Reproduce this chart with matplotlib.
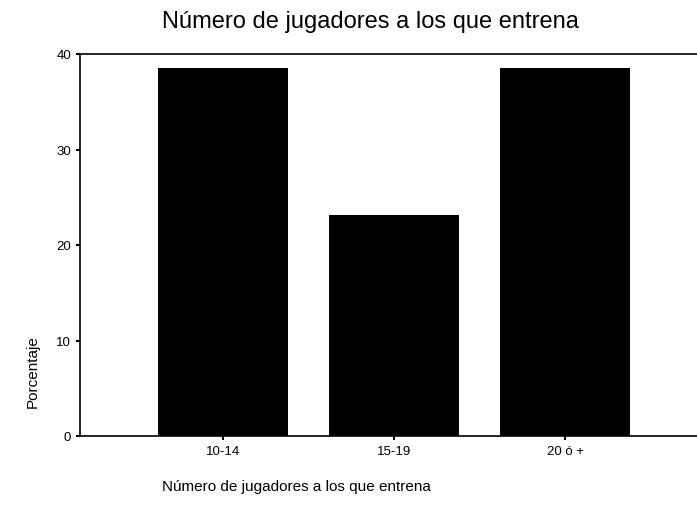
import matplotlib
matplotlib.use("Agg")
import matplotlib.pyplot as plt
import numpy as np

plt.rcParams.update({
    "font.family": ["Liberation Sans", "DejaVu Sans"],
})

categories = ["10-14", "15-19", "20 ó +"]
porcentaje = [38.5, 23.1, 38.5]
yticks = [0, 10, 20, 30, 40]

fig = plt.figure(figsize=(6.97, 5.10), dpi=100)
ax = fig.add_axes([80 / 697, 1 - 437 / 510, 1 - 80 / 697, (437 - 55) / 510])

x = np.arange(len(categories))
ax.bar(x, porcentaje, width=0.76, color="black")

ax.set_xlim(-0.836, 2.77)
ax.set_ylim(0, 40)
ax.set_xticks(x)
ax.set_xticklabels(categories, fontsize=9.5)
ax.set_yticks(yticks)
ax.set_yticklabels([str(t) for t in yticks], fontsize=9.5)
ax.tick_params(axis="both", direction="out", length=3, width=1.5)
for sp in ax.spines.values():
    sp.set_linewidth(1.2)
ax.spines["right"].set_visible(False)

ax.set_ylabel("Porcentaje", fontsize=11)
ax.yaxis.set_label_coords(-0.066, 0.17)

fig.text(162 / 697, 1 - 22 / 510, "Número de jugadores a los que entrena",
         fontsize=17, ha="left", va="center")
fig.text(162 / 697, 1 - 487 / 510, "Número de jugadores a los que entrena",
         fontsize=11, ha="left", va="center")

fig.savefig("out.png")
